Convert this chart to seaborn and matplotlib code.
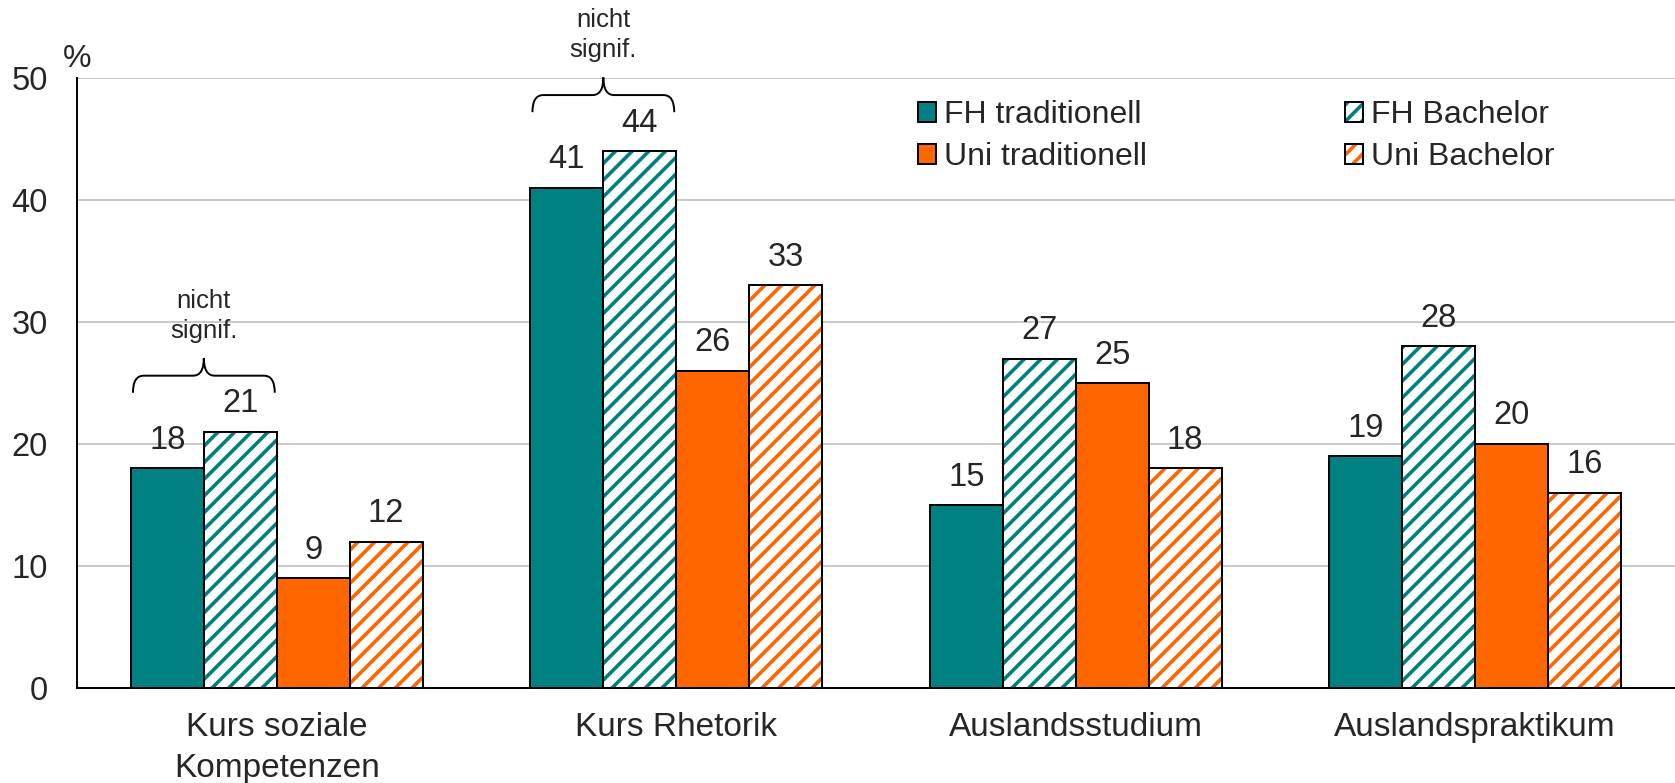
import numpy as np
import pandas as pd
import matplotlib
matplotlib.use("Agg")
import matplotlib.pyplot as plt
import seaborn as sns
from matplotlib.patches import Rectangle, PathPatch
from matplotlib.path import Path

# data
categories = ["Kurs soziale\nKompetenzen", "Kurs Rhetorik", "Auslandsstudium", "Auslandspraktikum"]
groups = ["FH traditionell", "FH Bachelor", "Uni traditionell", "Uni Bachelor"]
fh_trad = [18, 41, 15, 19]
fh_bach = [21, 44, 27, 28]
uni_trad = [9, 26, 25, 20]
uni_bach = [12, 33, 18, 16]
not_signif = [0, 1]  # categories where FH traditionell vs FH Bachelor is "nicht signif."

teal = "#008080"
orange = "#FF6600"
colors = [teal, teal, orange, orange]
hatched = [False, True, False, True]

df = pd.DataFrame({
    "cat": np.repeat(categories, 4),
    "group": groups * 4,
    "val": np.array([fh_trad, fh_bach, uni_trad, uni_bach]).T.ravel(),
})

sns.set_style("white")
plt.rcParams["font.family"] = ["Liberation Sans", "DejaVu Sans"]
plt.rcParams["hatch.linewidth"] = 2.6

fig = plt.figure(figsize=(16.75, 7.83), dpi=100)
ax = fig.add_axes([77 / 1675, 95 / 783, 1598 / 1675, 610 / 783])

sns.barplot(data=df, x="cat", y="val", hue="group", hue_order=groups,
            palette=colors, saturation=1, width=0.73, edgecolor="black",
            linewidth=1.4, legend=False, ax=ax, zorder=2)

# hatched bars: white face, coloured stripes, black outline on top
for cont, col, h in zip(ax.containers, colors, hatched):
    if not h:
        continue
    for bar in cont:
        bar.set_facecolor("white")
        bar.set_edgecolor(col)
        bar.set_hatch("//")
        bar.set_linewidth(0)
        ax.add_patch(Rectangle(bar.get_xy(), bar.get_width(), bar.get_height(),
                               fill=False, edgecolor="black", linewidth=1.4, zorder=3))

for cont in ax.containers:
    ax.bar_label(cont, fmt="%d", padding=9, fontsize=23.5)

# axes styling
ax.set_ylim(0, 50)
ax.set_xlim(-0.5, 3.5)
ax.set_yticks(range(0, 51, 10))
ax.yaxis.grid(True, color="#c0c0c0", linewidth=1.2, zorder=0)
ax.set_axisbelow(True)
ax.set_xticks(np.arange(-0.5, 3.6, 1))
ax.set_xticklabels([])
ax.set_xticks(range(len(categories)), categories, minor=True)
for lbl in ax.get_xticklabels(minor=True):
    lbl.set_linespacing(1.42)
ax.tick_params(axis="x", which="major", length=8, width=1.4, direction="out", color="black")
ax.tick_params(axis="x", which="minor", length=0, pad=17, labelsize=24)
ax.tick_params(axis="y", length=8, width=1.4, direction="out", color="black", pad=13, labelsize=23.5)
ax.set_xlabel("")
ax.set_ylabel("")
for s in ["top", "right"]:
    ax.spines[s].set_visible(False)
for s in ["left", "bottom"]:
    ax.spines[s].set_color("black")
    ax.spines[s].set_linewidth(1.4)

ax.annotate("%", xy=(0, 1), xycoords="axes fraction", xytext=(0, 3),
            textcoords="offset points", ha="center", va="bottom", fontsize=23)

# braces with "nicht signif."
r = 0.027
for i in not_signif:
    b1 = ax.containers[0][i]
    b2 = ax.containers[1][i]
    xl = b1.get_x() + 0.005
    xr = b2.get_x() + b2.get_width() - 0.005
    xc = (b1.get_x() + b1.get_width() + b2.get_x()) / 2
    top = max(b1.get_height(), b2.get_height())
    y0, y1, y2 = top + 3.2, top + 4.6, top + 6.05
    verts = [(xl, y0), (xl, y1), (xl + r, y1),
             (xc - r, y1), (xc, y1), (xc, y2),
             (xc, y1), (xc + r, y1),
             (xr - r, y1), (xr, y1), (xr, y0)]
    codes = [Path.MOVETO, Path.CURVE3, Path.CURVE3,
             Path.LINETO, Path.CURVE3, Path.CURVE3,
             Path.CURVE3, Path.CURVE3,
             Path.LINETO, Path.CURVE3, Path.CURVE3]
    ax.add_patch(PathPatch(Path(verts, codes), fill=False, edgecolor="black",
                           linewidth=1.4, clip_on=False, zorder=4))
    ax.text(xc, top + 9.5, "nicht\nsignif.", ha="center", va="center",
            fontsize=18.5, linespacing=1.3)

# legend
handles = []
for col, h in zip(colors, hatched):
    if h:
        handles.append((Rectangle((0, 0), 1, 1, facecolor="white", edgecolor=col, hatch="//", linewidth=0),
                        Rectangle((0, 0), 1, 1, fill=False, edgecolor="black", linewidth=1.4)))
    else:
        handles.append(Rectangle((0, 0), 1, 1, facecolor=col, edgecolor="black", linewidth=1.4))
order = [0, 2, 1, 3]
ax.legend([handles[k] for k in order], [groups[k] for k in order], ncol=2,
          loc="upper left", bbox_to_anchor=(0.526, 0.964), frameon=False,
          fontsize=23, handlelength=0.57, handleheight=0.57, handletextpad=0.25,
          columnspacing=6.2, labelspacing=0.38, borderpad=0, borderaxespad=0)

fig.savefig("out.png", dpi=100)
